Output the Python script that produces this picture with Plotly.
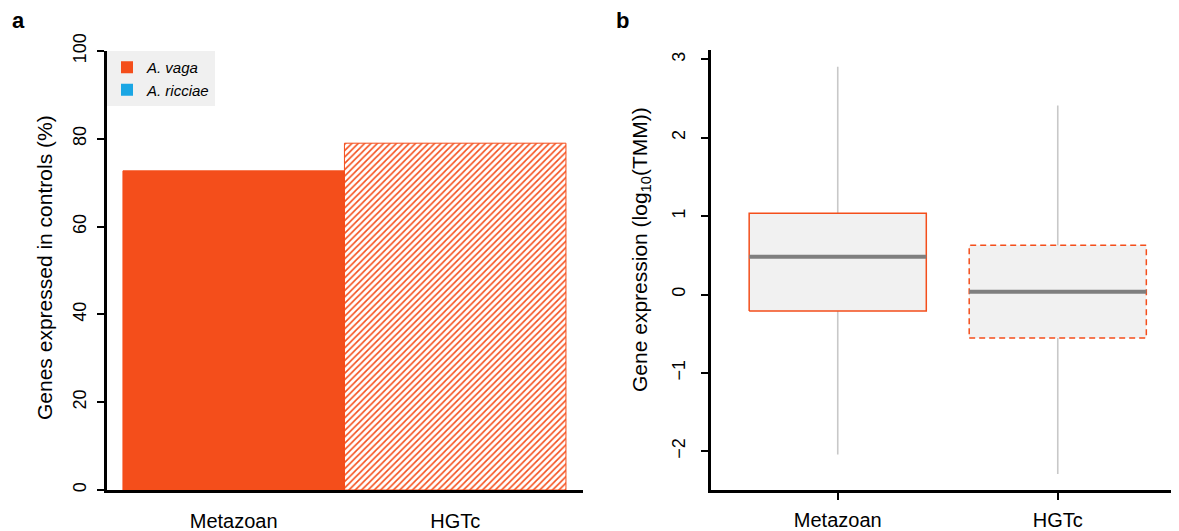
import plotly.graph_objects as go

# ---- data ----
categories = ["Metazoan", "HGTc"]
pct_expressed = [72.7, 79.0]          # panel a: genes expressed in controls (%)
legend_species = ["A. vaga", "A. ricciae"]
q1 = [-0.21, -0.555]                  # panel b box stats (log10 TMM)
median = [0.483, 0.036]
q3 = [1.035, 0.628]
whisker_low = [-2.04, -2.29]
whisker_high = [2.906, 2.41]

ORANGE = "#F44E1B"
BLUE = "#1AA6E4"
FONT = "Liberation Sans, Arial, Helvetica, sans-serif"
OFF = 8                      # page body margin of the html page
W, H = 1179 - OFF, 531 - OFF

def px(x):
    return (x - OFF) / W

def py(y):
    return 1 - (y - OFF) / H

fig = go.Figure()
pos = list(range(len(categories)))

# ---- panel a: bars ----
fig.add_trace(go.Bar(
    x=pos, y=pct_expressed, width=1,
    marker=dict(
        color=[ORANGE, ORANGE],
        line=dict(color=ORANGE, width=1),
        pattern=dict(shape=["", "/"], fgcolor=ORANGE, bgcolor="white",
                     size=4.5, solidity=0.35, fillmode="replace"),
    ),
    showlegend=False, xaxis="x", yaxis="y",
))

# legend entries
for name, col in zip(legend_species, [ORANGE, BLUE]):
    fig.add_trace(go.Scatter(
        x=[None], y=[None], mode="markers", name="<i>%s</i>" % name,
        marker=dict(symbol="square", size=12, color=col),
        xaxis="x", yaxis="y",
    ))

# ---- panel b: boxes ----
bw = 0.805
dashes = ["solid", "6px,4px"]
for i, c in enumerate(categories):
    fig.add_trace(go.Scatter(
        x=[pos[i], pos[i]], y=[whisker_low[i], whisker_high[i]], mode="lines",
        line=dict(color="#C8C8C8", width=1.6), showlegend=False,
        hoverinfo="skip", xaxis="x2", yaxis="y2"))
    x0, x1 = pos[i] - bw / 2, pos[i] + bw / 2
    fig.add_trace(go.Scatter(
        x=[x0, x1, x1, x0, x0], y=[q1[i], q1[i], q3[i], q3[i], q1[i]],
        mode="lines", fill="toself", fillcolor="#F1F1F1",
        line=dict(color=ORANGE, width=1.5, dash=dashes[i]),
        showlegend=False, name=c, xaxis="x2", yaxis="y2"))
    fig.add_trace(go.Scatter(
        x=[x0, x1], y=[median[i], median[i]], mode="lines",
        line=dict(color="#7F7F7F", width=4), showlegend=False,
        xaxis="x2", yaxis="y2"))

axis_common = dict(showline=True, linecolor="black", linewidth=2.5,
                   showgrid=False, zeroline=False, ticks="outside",
                   tickcolor="black", tickwidth=1.5, ticklen=7,
                   automargin=False,
                   tickfont=dict(family=FONT, size=18, color="black"))
xfont = dict(family=FONT, size=20, color="black")

fig.update_layout(
    width=W, height=H, margin=dict(l=0, r=0, t=0, b=0, pad=0),
    paper_bgcolor="white", plot_bgcolor="white",
    font=dict(family=FONT, color="black"),
    xaxis=dict(**{**axis_common, "ticks": "", "tickfont": xfont},
               domain=[px(107), px(583)],
               range=[-0.572, 1.577], tickvals=pos, ticktext=categories,
               ticklabelstandoff=11),
    yaxis=dict(**axis_common, domain=[py(490), py(51)], range=[0, 100],
               tickvals=[0, 20, 40, 60, 80, 100], tickangle=-90,
               ticklabelstandoff=4),
    xaxis2=dict(**{**axis_common, "tickfont": xfont},
                domain=[px(711), 1.0], anchor="y2",
                range=[-0.576, 1.551], tickvals=pos, ticktext=categories,
                ticklabelstandoff=3),
    yaxis2=dict(**axis_common, domain=[py(490), py(50)], anchor="x2",
                range=[-2.494, 3.119], tickvals=[-2, -1, 0, 1, 2, 3],
                ticktext=["\u22122", "\u22121", "0", "1", "2", "3"],
                tickangle=-90, ticklabelstandoff=9),
    legend=dict(x=px(107), y=py(51), xanchor="left", yanchor="top",
                bgcolor="#F0F0F0", font=dict(family=FONT, size=15, color="black"),
                itemwidth=30, tracegroupgap=0),
    showlegend=True,
)

annotations = [
    dict(text="<b>a</b>", x=px(18), y=py(20)),
    dict(text="<b>b</b>", x=px(622), y=py(20)),
]
for a in annotations:
    a.update(xref="paper", yref="paper", showarrow=False,
             font=dict(family=FONT, size=22, color="black"),
             xanchor="center", yanchor="middle")
fig.update_layout(annotations=annotations + [
    dict(text="Genes expressed in controls (%)", x=px(44), y=py(268),
         xref="paper", yref="paper", showarrow=False, textangle=-90,
         font=dict(family=FONT, size=21, color="black"),
         xanchor="center", yanchor="middle"),
    dict(text="Gene expression (log<sub>10</sub>(TMM))", x=px(641), y=py(250),
         xref="paper", yref="paper", showarrow=False, textangle=-90,
         font=dict(family=FONT, size=21, color="black"),
         xanchor="center", yanchor="middle"),
])

fig.write_html("out.html")
